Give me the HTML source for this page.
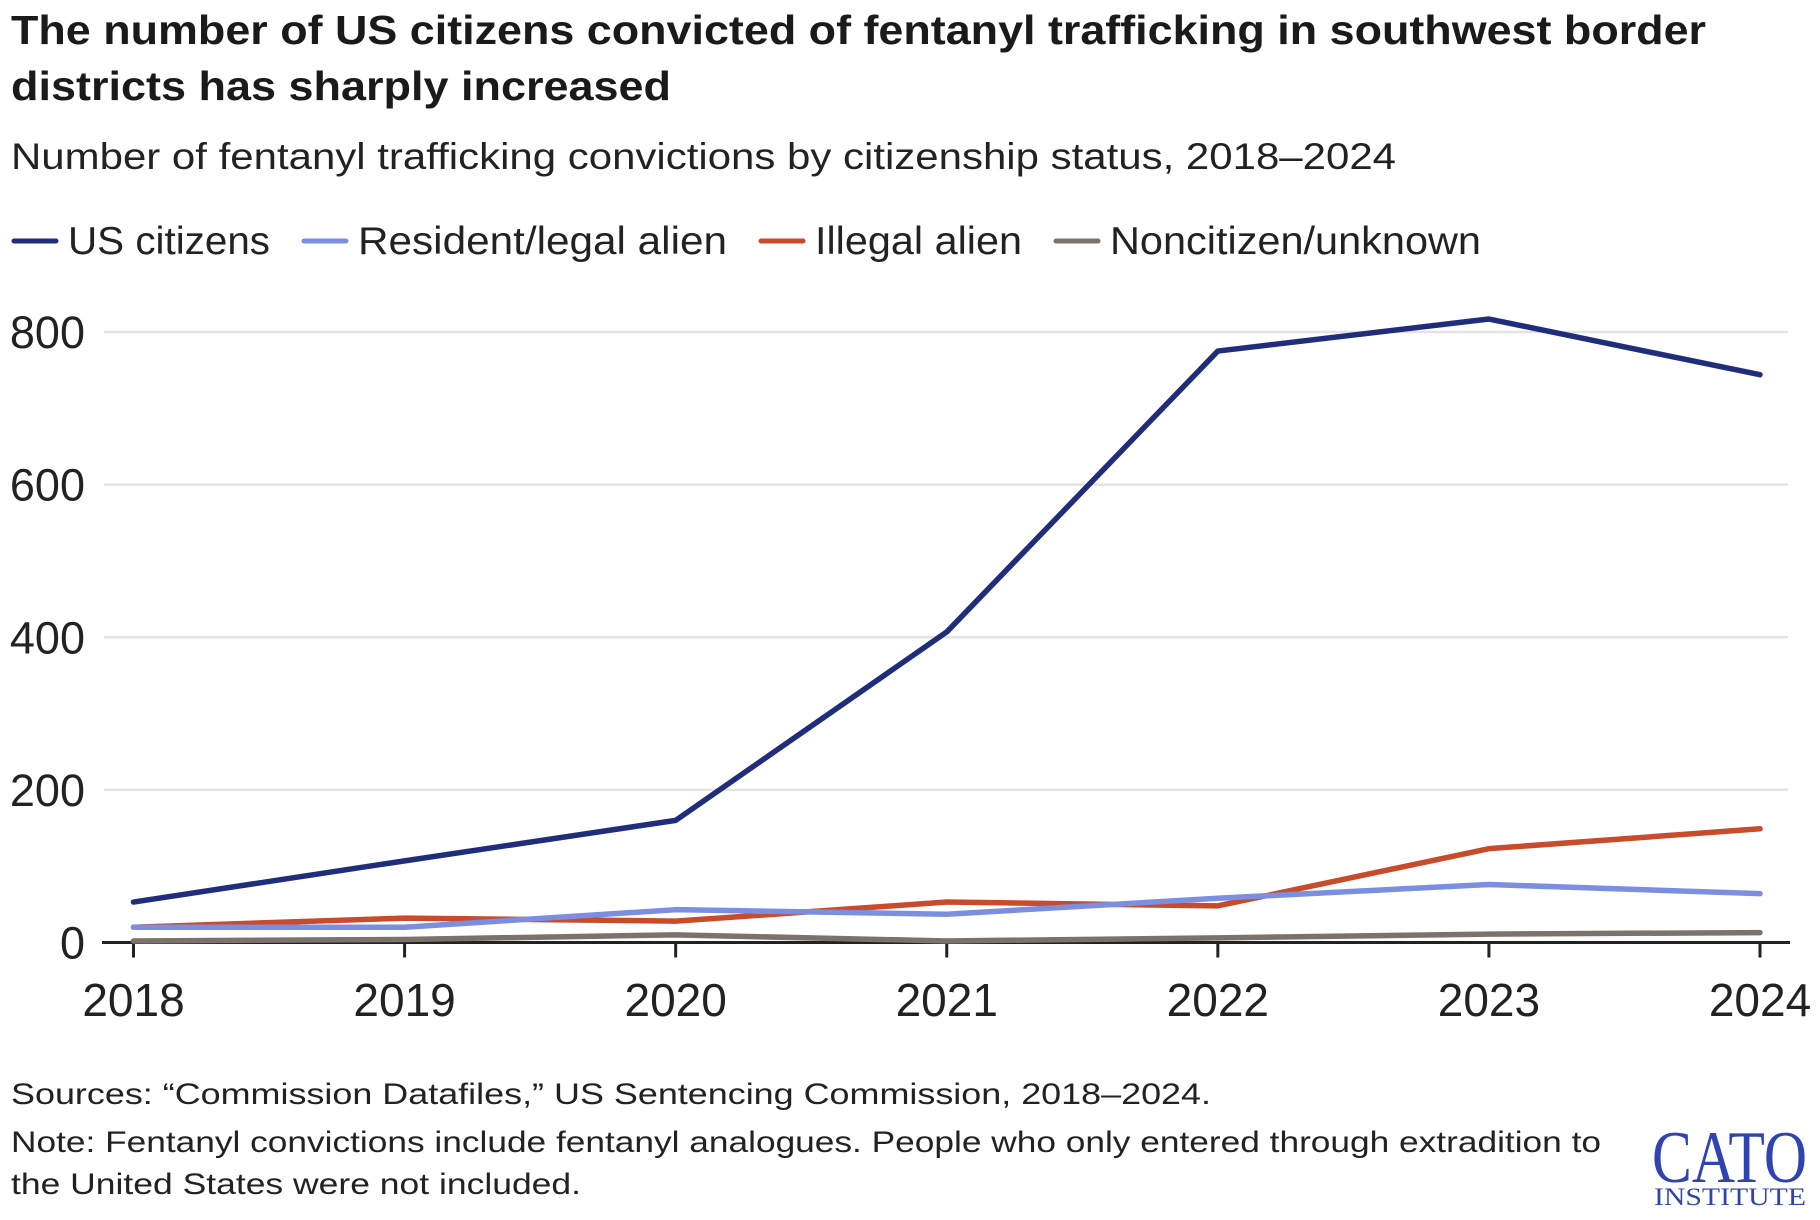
<!DOCTYPE html>
<html><head><meta charset="utf-8"><style>
body{margin:0;background:#fff;}
svg{display:block;font-family:"Liberation Sans",sans-serif;}
</style></head><body>
<svg id="chart" width="1820" height="1220" viewBox="0 0 1820 1220">
<text x="11" y="44" font-size="41" font-weight="bold" fill="#1a1a1a" textLength="1695" lengthAdjust="spacingAndGlyphs">The number of US citizens convicted of fentanyl trafficking in southwest border</text>
<text x="11" y="100" font-size="41" font-weight="bold" fill="#1a1a1a" textLength="660" lengthAdjust="spacingAndGlyphs">districts has sharply increased</text>
<text x="11" y="169" font-size="37" fill="#222" textLength="1385" lengthAdjust="spacingAndGlyphs">Number of fentanyl trafficking convictions by citizenship status, 2018–2024</text>
<g id="legend"></g>
<g id="grid"></g>
<g id="axes"></g>
<g id="series"></g>
<text x="11" y="1104" font-size="30" fill="#222" textLength="1200" lengthAdjust="spacingAndGlyphs">Sources: “Commission Datafiles,” US Sentencing Commission, 2018–2024.</text>
<text x="11" y="1152" font-size="30" fill="#222" textLength="1590" lengthAdjust="spacingAndGlyphs">Note: Fentanyl convictions include fentanyl analogues. People who only entered through extradition to</text>
<text x="11" y="1194" font-size="30" fill="#222" textLength="570" lengthAdjust="spacingAndGlyphs">the United States were not included.</text>
<g>
<text x="1652" y="1182" font-family="Liberation Serif,serif" font-size="74" fill="#2f44b0" textLength="155" lengthAdjust="spacingAndGlyphs">CATO</text>
<text x="1654" y="1205" font-family="Liberation Serif,serif" font-size="25" fill="#2f44b0" textLength="152" lengthAdjust="spacingAndGlyphs">INSTITUTE</text>
</g>
</svg>
<script>
const years=[2018,2019,2020,2021,2022,2023,2024];
const usCitizens=[53,107,160,407,775,817,744];
const residentLegal=[20,20,43,37,58,76,64];
const illegalAlien=[20,32,28,53,48,123,149];
const noncitizenUnknown=[2,4,10,2,6,11,13];
const yTicks=[0,200,400,600,800];
const seriesNames=["US citizens","Resident/legal alien","Illegal alien","Noncitizen/unknown"];
const NS="http://www.w3.org/2000/svg";
const x0=133.5,x1=1760,y0=942.5,y1=332;
const xs=i=>x0+(x1-x0)*i/(years.length-1);
const ys=v=>y0+(y1-y0)*v/800;
function mk(tag,attrs,parent,txt){const e=document.createElementNS(NS,tag);for(const k in attrs)e.setAttribute(k,attrs[k]);if(txt!=null)e.textContent=txt;parent.appendChild(e);return e;}
const grid=document.getElementById('grid'),axes=document.getElementById('axes'),ser=document.getElementById('series'),leg=document.getElementById('legend');
yTicks.forEach(t=>{
 if(t>0){const l=mk('line',{x1:104,x2:1788,y1:ys(t),y2:ys(t),stroke:'#e3e3e3','stroke-width':2.5},grid);
 
 }
 const tx=mk('text',{x:85,y:ys(t)+16,'text-anchor':'end','font-size':45,fill:'#222'},axes,t);
 
 
});
const ax=mk('line',{x1:102,x2:1790,y1:y0,y2:y0,stroke:'#222','stroke-width':3},axes);


years.forEach((yr,i)=>{
 const tk=mk('line',{x1:xs(i),x2:xs(i),y1:y0,y2:y0+15,stroke:'#222','stroke-width':3},axes);
 
 
 const tl=mk('text',{x:xs(i),y:1016,'text-anchor':'middle','font-size':46,fill:'#222'},axes,yr);
 
 
});
const data=[usCitizens,residentLegal,illegalAlien,noncitizenUnknown];
const colors=['#1f2d7a','#7b8ee0','#c84b2c','#7a726b'];
const order=[3,2,1,0];
order.forEach(s=>{
 const p=mk('polyline',{points:data[s].map((v,i)=>xs(i)+','+ys(v)).join(' '),fill:'none',stroke:colors[s],'stroke-width':5.5,'stroke-linejoin':'round','stroke-linecap':'round'},ser);
 
 
});
const lx=[14,304,761,1056];
const lw=[202,369,207,371];
seriesNames.forEach((n,s)=>{
 const sw=mk('line',{x1:lx[s],x2:lx[s]+42,y1:241,y2:241,stroke:colors[s],'stroke-width':5,'stroke-linecap':'round'},leg);
 
 
 const t=mk('text',{x:lx[s]+54,y:254,'font-size':39,fill:'#222',textLength:lw[s],lengthAdjust:'spacingAndGlyphs'},leg,n);
 
 
});
</script>
</body></html>
